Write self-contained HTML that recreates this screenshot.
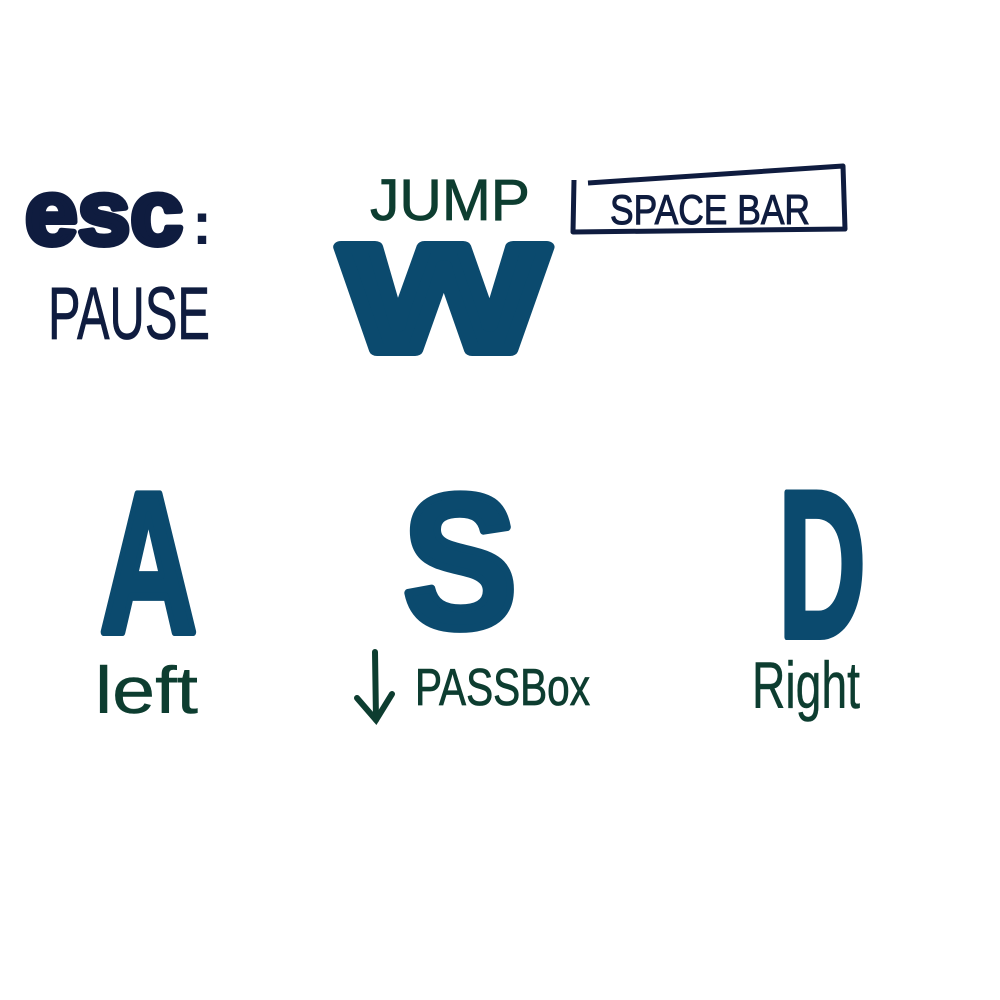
<!DOCTYPE html>
<html>
<head>
<meta charset="utf-8">
<style>
  html,body{margin:0;padding:0;background:#fff;}
  svg{display:block;}
  text{font-family:"Liberation Sans","DejaVu Sans",sans-serif;}
</style>
</head>
<body>
<svg width="1000" height="1000" viewBox="0 0 1000 1000">
  <rect x="0" y="0" width="1000" height="1000" fill="#fff"/>

  <g>
    <text x="25" y="244" font-size="92" font-weight="bold" fill="#0f1c3f" stroke="#0f1c3f" stroke-width="6" stroke-linejoin="round" textLength="158" lengthAdjust="spacingAndGlyphs">esc</text>
    <text x="192" y="244" font-size="60" font-weight="bold" fill="#0f1c3f">:</text>
    <text x="48" y="339" font-size="74" fill="#0f1c3f" stroke="#0f1c3f" stroke-width="0.8" textLength="162" lengthAdjust="spacingAndGlyphs">PAUSE</text>
  </g>

  <g>
    <text x="370" y="220" font-size="58" fill="#0d3d30" stroke="#0d3d30" stroke-width="0.8" textLength="160" lengthAdjust="spacingAndGlyphs">JUMP</text>
    <text x="342" y="350" font-size="195" font-weight="bold" fill="#0b4a6e" stroke="#0b4a6e" stroke-width="12" stroke-linejoin="round" textLength="204" lengthAdjust="spacingAndGlyphs">w</text>
  </g>

  <g>
    <polyline points="588,183 843,166 845,229 573,232 574,180" fill="none" stroke="#0f1c3f" stroke-width="5" stroke-linejoin="round"/>
    <text x="610" y="224" font-size="42" fill="#0f1c3f" stroke="#0f1c3f" stroke-width="1" textLength="200" lengthAdjust="spacingAndGlyphs">SPACE BAR</text>
  </g>

  <g>
    <text x="100" y="632" font-size="200" font-weight="bold" fill="#0b4a6e" stroke="#0b4a6e" stroke-width="8" stroke-linejoin="round" textLength="97" lengthAdjust="spacingAndGlyphs">A</text>
    <text x="95" y="713" font-size="66" fill="#0d3d30" stroke="#0d3d30" stroke-width="0.5" textLength="103" lengthAdjust="spacingAndGlyphs">left</text>
  </g>

  <g>
    <text x="403" y="627" font-size="190" font-weight="bold" fill="#0b4a6e" stroke="#0b4a6e" stroke-width="8" stroke-linejoin="round" textLength="114" lengthAdjust="spacingAndGlyphs">S</text>
    <g stroke="#0d3d30" stroke-width="6" stroke-linecap="round" fill="none">
      <line x1="375" y1="652" x2="376" y2="720"/>
      <polyline points="357,698 376,720 392,694"/>
    </g>
    <text x="415" y="705" font-size="52" fill="#0d3d30" stroke="#0d3d30" stroke-width="0.8" textLength="175" lengthAdjust="spacingAndGlyphs">PASSBox</text>
  </g>

  <g>
    <text x="778" y="637" font-size="210" font-weight="bold" fill="#0b4a6e" stroke="#0b4a6e" stroke-width="6" stroke-linejoin="round" textLength="88" lengthAdjust="spacingAndGlyphs">D</text>
    <text x="752" y="708" font-size="66" fill="#0d3d30" stroke="#0d3d30" stroke-width="0.5" textLength="108" lengthAdjust="spacingAndGlyphs">Right</text>
  </g>
</svg>
</body>
</html>
